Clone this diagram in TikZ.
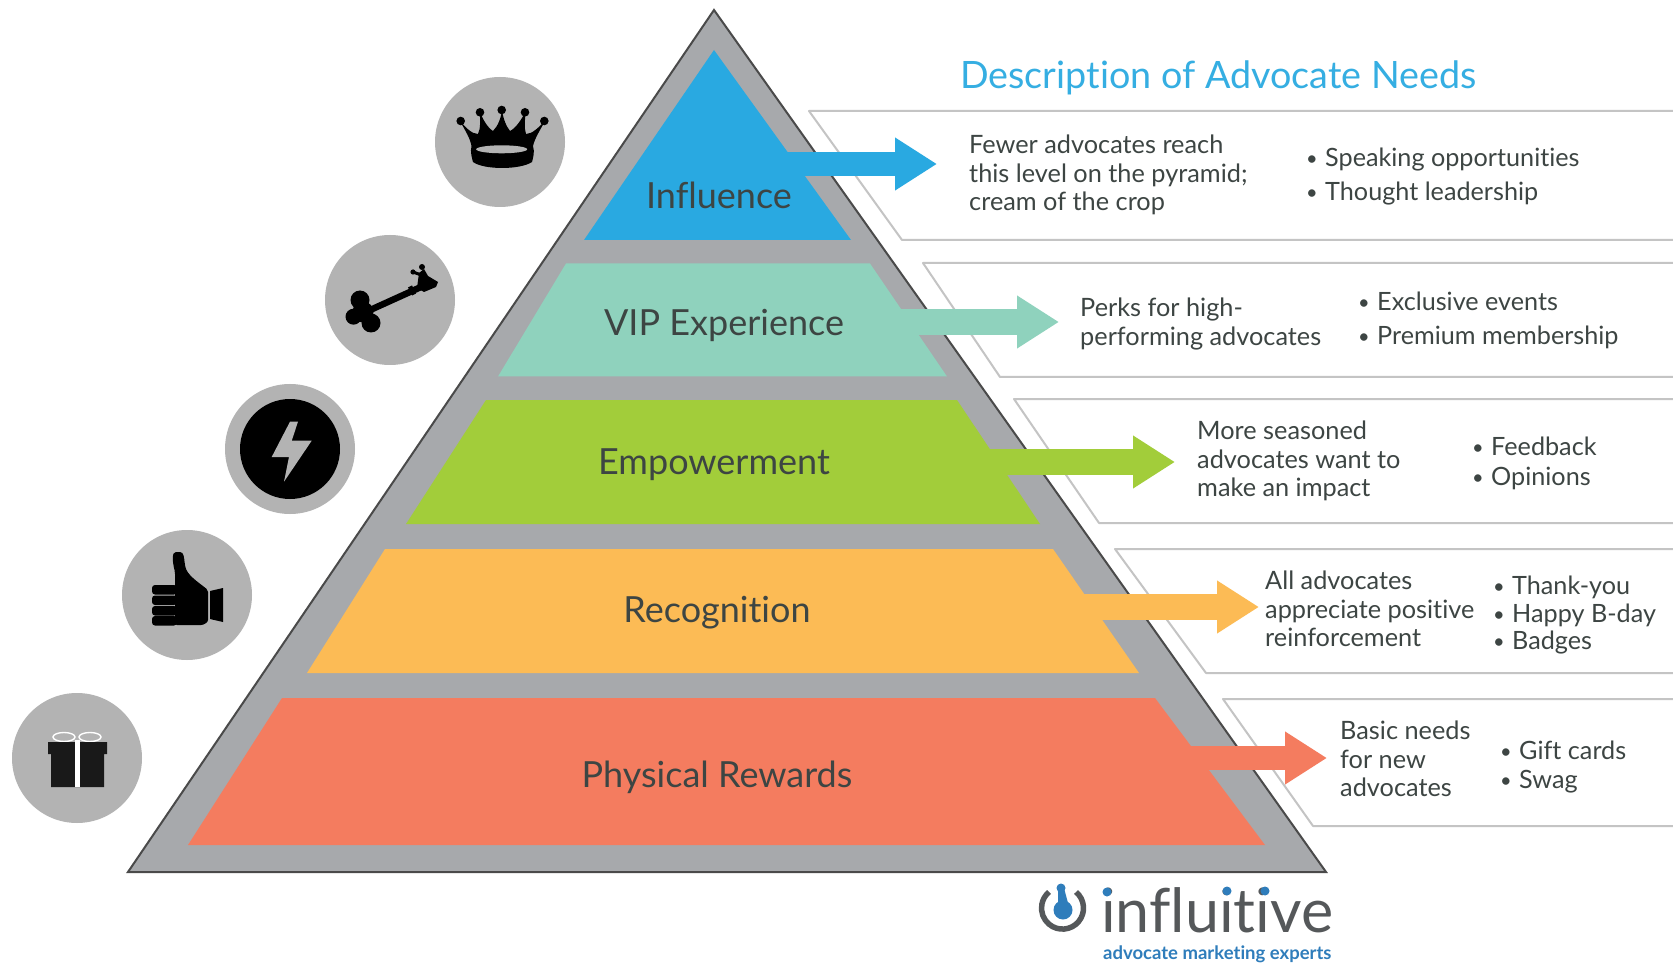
\documentclass[tikz,border=0pt]{standalone}
\usepackage{fontspec}
\setmainfont[Ligatures=NoCommon]{Lato}
\usetikzlibrary{arrows.meta}
\definecolor{cblue}{HTML}{29A9E1}
\definecolor{cteal}{HTML}{8FD2BD}
\definecolor{cgreen}{HTML}{A2CD3A}
\definecolor{corange}{HTML}{FCBB55}
\definecolor{cred}{HTML}{F47C5F}
\definecolor{cpyr}{HTML}{A7A9AC}
\definecolor{cedge}{HTML}{4A4A4A}
\definecolor{cpanel}{HTML}{C4C4C4}
\definecolor{ccirc}{HTML}{B3B3B3}
\definecolor{ctext}{HTML}{3D4543}
\definecolor{ctitle}{HTML}{35AEE2}
\definecolor{clogo}{HTML}{55585A}
\definecolor{clogob}{HTML}{2F7DBB}
\tikzset{
  x=1pt,y=-1pt,
  panel/.style={draw=cpanel,line width=2pt,fill=white,line join=round},
  conn/.style={line width=#1,-{Triangle[length=42pt,width=50pt]}},
  title/.style={text=ctitle,inner sep=0pt,anchor=west,font=\fontsize{37.7}{40}\selectfont},
  tier/.style={text=ctext,inner sep=0pt,font=\fontsize{36}{40}\selectfont},
  desc/.style={text=ctext,inner sep=0pt,anchor=west,align=left,font=\fontsize{25.3}{28.7}\selectfont},
  bul/.style={text=ctext,inner sep=0pt,anchor=west,font=\fontsize{25.2}{28}\selectfont},
  badge/.style={circle,fill=ccirc,minimum size=130pt,inner sep=0pt},
}
\newcommand{\bitem}[4]{\node[bul] (#1) at (#2,#3) {\makebox[19pt][l]{\raisebox{1pt}{\fontsize{20}{20}\selectfont•}}#4};}
\begin{document}
\begin{tikzpicture}
\useasboundingbox (0,0) rectangle (1673,965);
\fill[white] (0,0) rectangle (1673,965);
% panels
\path[panel] (1673,111) -- (809,111) -- (902,240) -- (1673,240);
\path[panel] (1673,263) -- (923,263) -- (1000,377) -- (1673,377);
\path[panel] (1673,399) -- (1014,399) -- (1099,523) -- (1673,523);
\path[panel] (1673,549) -- (1115,549) -- (1206,673) -- (1673,673);
\path[panel] (1673,699) -- (1223,699) -- (1313,826) -- (1673,826);
% pyramid
\filldraw[fill=cpyr,draw=cedge,line width=2pt,line join=miter] (714,10) -- (1326,872) -- (128,872) -- cycle;
\fill[cblue] (714,50) -- (851,240) -- (584,240) -- cycle;
\fill[cteal] (566,263.5) -- (870,263.5) -- (947,376.5) -- (498,376.5) -- cycle;
\fill[cgreen] (486,400) -- (957,400) -- (1040,524) -- (406,524) -- cycle;
\fill[corange] (385,549) -- (1053,549) -- (1139,673) -- (307,673) -- cycle;
\fill[cred] (282,698) -- (1155,698) -- (1265,845) -- (188,845) -- cycle;
% connectors
\coordinate (s1) at (775,164); \coordinate (t1) at (937,164);
\coordinate (s2) at (900,322); \coordinate (t2) at (1059,322);
\coordinate (s3) at (985,462); \coordinate (t3) at (1175,462);
\coordinate (s4) at (1083,607); \coordinate (t4) at (1259,607);
\coordinate (s5) at (1180,758); \coordinate (t5) at (1327,758);
\draw[conn=24pt,cblue] (s1) -- (t1);
\draw[conn=26pt,cteal] (s2) -- (t2);
\draw[conn=26pt,cgreen] (s3) -- (t3);
\draw[conn=26pt,corange] (s4) -- (t4);
\draw[conn=24pt,cred] (s5) -- (t5);
% tier labels
\node[tier] (l1) at (719,195) {Influence};
\node[tier] (l2) at (724,325) {VIP Experience};
\node[tier] (l3) at (714,465) {Empowerment};
\node[tier] (l4) at (717,613) {Recognition};
\node[tier] (l5) at (717,777) {Physical Rewards};
% title
\node[title] (ttl) at (960,78) {Description of Advocate Needs};
% descriptions
\node[desc] (d1) at (969,175) {Fewer advocates reach\\this level on the pyramid;\\cream of the crop};
\node[desc] (d2) at (1080,324) {Perks for high-\\performing advocates};
\node[desc] (d3) at (1197,461) {More seasoned\\advocates want to\\make an impact};
\node[desc] (d4) at (1265,609) {All advocates\\appreciate positive\\reinforcement};
\node[desc] (d5) at (1340,759) {Basic needs\\for new\\advocates};
% bullets
\bitem{b11}{1306}{160}{Speaking opportunities}
\bitem{b12}{1306}{194}{Thought leadership}
\bitem{b21}{1358}{301}{Exclusive events}
\bitem{b22}{1358}{337}{Premium membership}
\bitem{b31}{1472}{446}{Feedback}
\bitem{b32}{1472}{478}{Opinions}
\bitem{b41}{1493}{587}{Thank-you}
\bitem{b42}{1493}{615}{Happy B-day}
\bitem{b43}{1493}{643}{Badges}
\bitem{b51}{1500}{750}{Gift cards}
\bitem{b52}{1500}{782}{Swag}
% badges
\node[badge] (crown) at (500,142) {};
\node[badge] (key) at (390,300) {};
\node[badge] (bolt) at (290,449) {};
\node[badge] (thumb) at (187,595) {};
\node[badge] (gift) at (77,758) {};
% crown icon
\fill[black] (460,121) .. controls (466,132) and (470,138) .. (471.5,146) .. controls (470,152) and (472,158) .. (473,162) .. controls (484,170) and (520,170) .. (532,162) .. controls (533,158) and (535,152) .. (533,146) .. controls (535,138) and (539,132) .. (545,121) .. controls (538,128) and (532,134) .. (526,134) .. controls (524,128) and (525,120) .. (525.5,112) .. controls (521,120) and (516,128) .. (510,131) .. controls (506,126) and (503,118) .. (502,110) .. controls (501,118) and (498,126) .. (493,131) .. controls (488,128) and (483,120) .. (480,112) .. controls (480,120) and (481,128) .. (478,134) .. controls (472,134) and (466,128) .. (460,121) -- cycle;
\foreach \p in {(460.7,121),(480,112.3),(501.7,110),(525,112.3),(544.3,121)} \fill[black] \p circle (4.3);
\fill[ccirc] (501.7,149.3) ellipse (25.5 and 4);
% key icon
\fill[black] (360,300) circle (9.5) (353.5,316.7) circle (8) (371,323) circle (9.5) (363,312) circle (10.5);
\draw[black,line width=6.5pt] (368,311) -- (432,282);
\draw[black,line width=9pt] (410,291.5) -- (414,289.5);
\fill[black] (417,288) -- (419,273) -- (424,269) -- (428,276) -- (438,282) -- (436,287) -- (424,292) -- cycle;
\fill[black] (413,272) circle (2.6) (422,267) circle (3);
\draw[black,line width=3pt] (413,272) -- (424,276);
% bolt icon
\fill[black] (bolt.center) circle (50);
\fill[ccirc] (290,421.7) -- (298,421.7) -- (291.7,440.7) -- (311.7,440.7) -- (284,481.7) -- (289,457) -- (271.7,457) -- cycle;
% thumb icon
\foreach \yy in {585,595.5,606,616} \fill[black,rounded corners=3pt] (152,\yy) rectangle (177,\yy+9.5);
\fill[black,rounded corners=2pt] (175,625) -- (175,572) .. controls (172,560) and (172,552) .. (178,552) .. controls (184,552) and (184,558) .. (185,565) .. controls (187,575) and (198,582) .. (208,590) -- (208,618) .. controls (208,623) and (203,625) .. (199,625) -- cycle;
\fill[black] (210,591) -- (223,588) -- (223,622) -- (210,619) -- cycle;
% gift icon
\draw[white,line width=1.4pt] (64,737) ellipse (11 and 4.5) (90,737) ellipse (11 and 4.5);
\fill[black!90] (48,742) -- (107,742) -- (107,754) -- (104,754) -- (104,787) -- (51,787) -- (51,754) -- (48,754) -- cycle;
\fill[white] (75,740) rectangle (80,787);
% logo
\draw[clogo,line width=5.5pt] (1076,892) arc (-50:230:21);
\fill[clogob] (1063,910) circle (9.5);
\fill[clogob] (1061,888) circle (4.5);
\fill[clogob] (1058,888) -- (1064,888) -- (1068,903) -- (1058,903) -- cycle;
\node[text=clogo,inner sep=0pt,anchor=base west,font=\fontsize{61}{64}\selectfont] (logo) at (1101,932) {influitive};
\fill[clogob] (1107,892) circle (4.5) (1227,891) circle (4.5) (1265,891) circle (4.5);
\node[text=clogob,inner sep=0pt,anchor=base west,font=\bfseries\fontsize{18.5}{22}\selectfont] (tag) at (1103,959) {advocate marketing experts};
\end{tikzpicture}
\end{document}
